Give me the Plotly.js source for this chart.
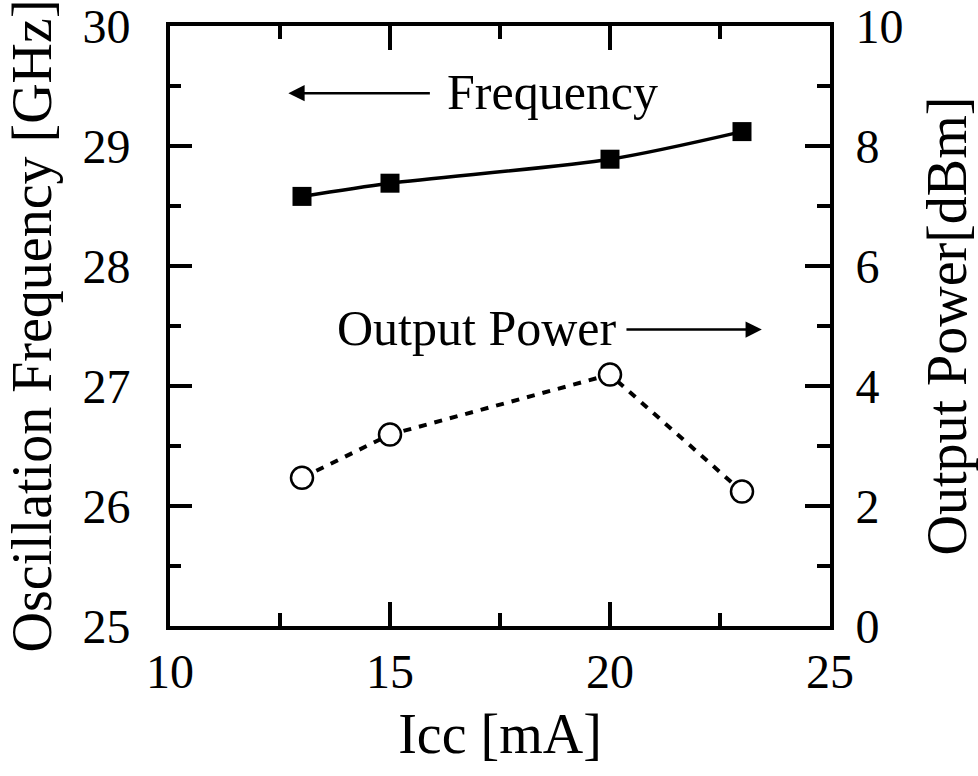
<!DOCTYPE html>
<html>
<head>
<meta charset="utf-8">
<script src="https://cdn.plot.ly/plotly-3.0.1.min.js"></script>
<style>
  html, body { margin: 0; padding: 0; background: #fff; }
  #chart { width: 978px; height: 776px; }
</style>
</head>
<body>
<div id="chart"></div>
<script>
// Data
const icc = [13, 15, 20, 23];                    // Icc [mA]
const frequency = [28.58, 28.69, 28.89, 29.12];  // Oscillation frequency [GHz]
const outputPower = [2.47, 3.19, 4.19, 2.24];    // Output power [dBm]

const xTitle = 'Icc [mA]';
const yTitle = 'Oscillation Frequency [GHz]';
const y2Title = 'Output Power[dBm]';
const freqLabel = 'Frequency';
const powerLabel = 'Output Power';

const FONT = 'Liberation Serif, Times New Roman, serif';
const TICK = 48;

const traces = [
  {
    x: icc, y: frequency, type: 'scatter', mode: 'lines+markers',
    line: { color: '#000', width: 3.5, shape: 'spline', smoothing: 0.8 },
    marker: { symbol: 'square', size: 19, color: '#000' },
    yaxis: 'y', showlegend: false, hoverinfo: 'skip'
  },
  {
    x: icc, y: outputPower, type: 'scatter', mode: 'lines+markers',
    line: { color: '#000', width: 4, dash: '8px,8px' },
    marker: { symbol: 'circle', size: 22, color: '#fff', line: { color: '#000', width: 2.5 } },
    yaxis: 'y2', showlegend: false, hoverinfo: 'skip'
  }
];

const layout = {
  width: 978, height: 776,
  margin: { l: 170, r: 148, t: 26, b: 150 },
  paper_bgcolor: '#fff', plot_bgcolor: '#fff',
  font: { family: FONT, color: '#000', size: 48 },
  xaxis: {
    range: [10, 25], dtick: 5, tick0: 10,
    showgrid: false, zeroline: false,
    showline: true, linecolor: '#000', linewidth: 4, mirror: 'ticks',
    ticks: 'inside', ticklen: 24, tickwidth: 3.5, tickcolor: '#000',
    minor: { dtick: 2.5, ticks: 'inside', ticklen: 13, tickwidth: 3.5, tickcolor: '#000', showgrid: false },
    tickfont: { family: FONT, size: TICK, color: '#000' },
    ticklabelstandoff: 0, ticklabeloverflow: 'allow',
    title: { text: xTitle, font: { family: FONT, size: 56, color: '#000' }, standoff: 18 }
  },
  yaxis: {
    range: [25, 30], dtick: 1, tick0: 25,
    showgrid: false, zeroline: false,
    showline: true, linecolor: '#000', linewidth: 4,
    ticks: 'inside', ticklen: 22, tickwidth: 3.5, tickcolor: '#000',
    minor: { dtick: 0.5, ticks: 'inside', ticklen: 11, tickwidth: 3.5, tickcolor: '#000', showgrid: false },
    tickfont: { family: FONT, size: TICK, color: '#000' },
    ticklabelstandoff: 26, ticklabeloverflow: 'allow',
    title: { text: yTitle, font: { family: FONT, size: 56, color: '#000' }, standoff: 14 }
  },
  yaxis2: {
    overlaying: 'y', side: 'right',
    range: [0, 10], dtick: 2, tick0: 0,
    showgrid: false, zeroline: false,
    showline: true, linecolor: '#000', linewidth: 4,
    ticks: 'inside', ticklen: 25, tickwidth: 3.5, tickcolor: '#000',
    minor: { dtick: 1, ticks: 'inside', ticklen: 13, tickwidth: 3.5, tickcolor: '#000', showgrid: false },
    tickfont: { family: FONT, size: TICK, color: '#000' },
    ticklabelstandoff: 12, ticklabeloverflow: 'allow',
    title: { text: y2Title, font: { family: FONT, size: 56, color: '#000' }, standoff: 38 }
  },
  annotations: [
    {
      xref: 'x', yref: 'y', x: 12.69, y: 29.44, axref: 'x', ayref: 'y', ax: 15.94, ay: 29.44,
      text: '', showarrow: true, arrowhead: 2, arrowsize: 1.3, arrowwidth: 2.5, arrowcolor: '#000'
    },
    {
      xref: 'x', yref: 'y', x: 16.26, y: 29.45, xanchor: 'left', yanchor: 'middle',
      text: freqLabel, showarrow: false, font: { family: FONT, size: 50, color: '#000' }
    },
    {
      xref: 'x', yref: 'y', x: 23.45, y: 27.47, axref: 'x', ayref: 'y', ax: 20.34, ay: 27.47,
      text: '', showarrow: true, arrowhead: 2, arrowsize: 1.3, arrowwidth: 2.5, arrowcolor: '#000'
    },
    {
      xref: 'x', yref: 'y', x: 20.2, y: 27.48, xanchor: 'right', yanchor: 'middle',
      text: powerLabel, showarrow: false, font: { family: FONT, size: 50, color: '#000' }
    }
  ]
};

Plotly.newPlot('chart', traces, layout, { staticPlot: true, displayModeBar: false });
</script>
</body>
</html>
